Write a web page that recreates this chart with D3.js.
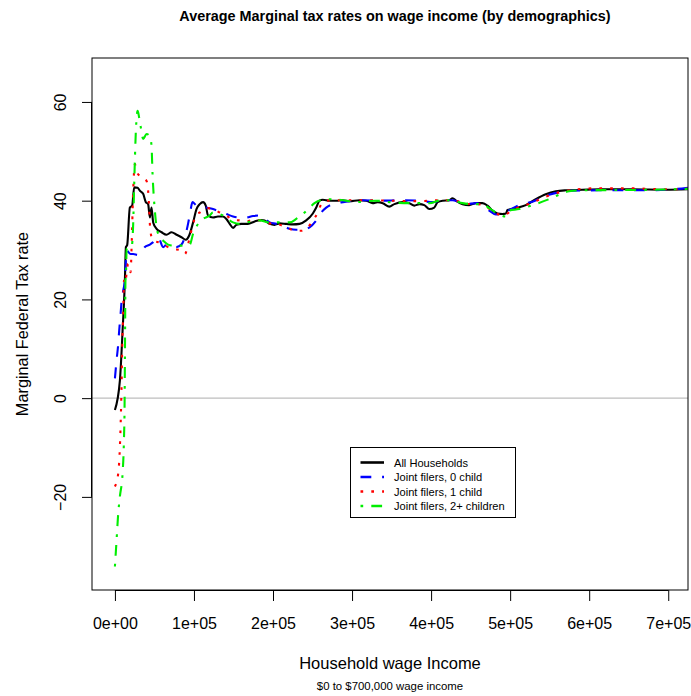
<!DOCTYPE html>
<html>
<head>
<meta charset="utf-8">
<script src="https://cdn.jsdelivr.net/npm/d3@7"></script>
<style>
  html, body { margin: 0; padding: 0; background: #ffffff; }
  svg { display: block; font-family: "Liberation Sans", Arial, Helvetica, sans-serif; }
</style>
</head>
<body>
<svg id="chart" width="691" height="696"></svg>
<script>
// Marginal federal tax rate (%) by household wage income ($), one [income, rate] list per group
const allHouseholds = [
  [0,-2.4],[6300,3.6],[9700,13.7],[12600,23.8],[13900,30.6],[15500,31],[18900,38.6],[21800,39],
  [24400,42.7],[28700,42.6],[31600,42],[35700,41.4],[39100,39.7],[42000,39.3],[44200,36.6],[46300,38.6],
  [48400,35.6],[52700,34.3],[59000,33.6],[65300,33.1],[71600,33.6],[77900,33.1],[84200,32.6],[89600,32.1],
  [93800,32.9],[98900,35.6],[103200,38.3],[107300,39.3],[111500,39.7],[114900,39],[117800,37],[124100,36.6],
  [130400,36.8],[136700,36.8],[141000,36.3],[145200,35.3],[149400,34.5],[153700,35.1],[160000,35.3],[168300,35.3],
  [176800,35.8],[185200,36.1],[189400,36],[195700,35.3],[202000,35.1],[208300,35.4],[216800,35.3],[225100,35.2],
  [233600,35.3],[242000,36],[250400,37.4],[254700,38.6],[258800,40],[263000,40.2],[271500,40],[279900,40],
  [288300,40.1],[296700,39.9],[309300,40.1],[317800,40],[326100,39.5],[332400,39.7],[338800,39.5],[347200,38.8],
  [353500,39.3],[364000,39.7],[372500,39.5],[378800,39],[385100,39.3],[391400,39.1],[397700,38.3],[404000,38.6],
  [408200,39.7],[414500,40],[423000,40.1],[427100,40.5],[432200,39.9],[439800,39.3],[448200,39.1],[456700,39.5],
  [465000,39.5],[471300,39],[477700,38],[484000,37.4],[490300,37.3],[494600,37.4],[496600,38.1],[507200,38.5],
  [519800,39.1],[532400,40.3],[545000,41.3],[557700,41.9],[570300,42.1],[591300,42.2],[612400,42.3],[654400,42.3],
  [696600,42.2],[725000,42.3]
];

const jointNoChild = [
  [0,4],[2100,7.7],[4200,11],[5400,13.7],[7200,17.1],[8500,19.8],[10500,21.8],[12600,23.8],
  [14800,29.9],[19800,29.2],[23100,29.2],[29400,29],[33700,29.6],[37900,30.6],[44200,31.1],[48400,31.6],
  [54700,32.6],[61000,30.6],[65300,31.1],[71600,30.9],[77900,30.6],[84200,31.1],[88400,32.6],[92500,35.3],
  [95600,38],[98100,39.7],[103200,39],[115800,38.6],[124100,38.3],[132600,37.8],[141000,37.3],[149400,36.8],
  [157800,36.6],[166300,36.6],[174600,36.9],[185200,37],[195700,35.6],[204200,35.3],[212500,34.9],[221000,34.3],
  [229400,34.1],[237800,34.1],[246200,34.6],[254700,36],[261000,37.6],[267300,38.6],[275600,39.3],[288300,39.7],
  [300900,40],[313500,40.1],[334600,40],[364000,40.1],[385100,40],[401900,39.7],[414500,40],[427100,40.1],
  [435600,39.7],[444100,39.3],[456700,39.5],[465000,39],[473500,38],[481900,37.2],[490300,37.3],[498700,38.1],
  [507200,38.8],[515500,39.3],[528200,39.8],[545100,41],[561900,41.7],[578700,42],[612400,42.1],[675500,42.1],
  [705000,42.3],[725000,42.6]
];

const jointOneChild = [
  [0,-17.9],[4200,-15.2],[6300,-9.8],[7600,-3.1],[8500,3.6],[9200,10.4],[10500,17.1],[11400,23.8],
  [12600,23.2],[16800,27.2],[19800,25.5],[21100,30.6],[23100,42],[25300,47.4],[27400,46],[31600,45],
  [35700,44.7],[40000,44],[42000,42],[43300,38.6],[44200,35.3],[46300,32.6],[48400,31.9],[54700,31.6],
  [61000,31.2],[67300,30.6],[73600,30.2],[82100,30],[88400,29.2],[94700,32.6],[98900,35.3],[103200,37.3],
  [107300,37.6],[115800,38.5],[124100,38.3],[132600,37.6],[141000,37],[149400,36.1],[157800,36],[166300,35.8],
  [174600,36.1],[185200,36],[195700,35.4],[204200,35.3],[212500,34.9],[221000,34.3],[229400,33.9],[235700,33.9],
  [244100,34.6],[250400,36],[256700,37.6],[261000,39.3],[267300,40],[279900,40.1],[317800,40.1],[350000,40],
  [385000,39.9],[414000,40.1],[430000,40],[445000,39.4],[465000,39.2],[475000,38.2],[484000,37.3],[492000,37],
  [500000,37.8],[510000,38.6],[525000,39.4],[545000,40.8],[565000,41.8],[585000,42.3],[610000,42.5],[650000,42.5],
  [700000,42.3],[725000,42.4]
];

const jointTwoPlus = [
  [0,-34.1],[2100,-28.7],[4200,-23.3],[6300,-19.9],[9700,-15.2],[11400,-8.5],[12200,-1.8],[12600,7],
  [13000,17.1],[13300,23.8],[13900,24.5],[14800,30.2],[21100,30.6],[23100,35.3],[24400,43.4],[26500,54.1],
  [28700,58.2],[30700,56.8],[32800,54.8],[35700,52.5],[40000,53.5],[44200,53.1],[46300,51.1],[47600,45.4],
  [49200,40.7],[50500,38],[52700,34.6],[56800,32.6],[61000,31.9],[67300,31.1],[73600,30.9],[88400,30.9],
  [94700,31.1],[98900,33.3],[105200,35.3],[111500,36.3],[119900,37],[124100,37.6],[136700,37],[149400,35.6],
  [157800,35.3],[166300,35.6],[183100,36],[195700,35.6],[221000,35.6],[229400,36.3],[237800,37.3],[246200,38.6],
  [252500,39.5],[261000,40.1],[275600,40.3],[292600,40],[305200,39.7],[317800,39.9],[330400,40],[347200,39.7],
  [372500,39.5],[397700,39.5],[412500,40.1],[425100,40.1],[439800,39.5],[452400,39.3],[465000,39.3],[473500,38.5],
  [481900,37.6],[494600,36.8],[498700,38],[511400,38.3],[528200,39.1],[549200,40.3],[561900,41.2],[574500,41.9],
  [591300,42.1],[675500,42.2],[725000,42.4]
];

const seriesNames = ["All Households", "Joint filers, 0 child", "Joint filers, 1 child", "Joint filers, 2+ children"];
const xTicks = [0, 100000, 200000, 300000, 400000, 500000, 600000, 700000];
const xTickLabels = ["0e+00", "1e+05", "2e+05", "3e+05", "4e+05", "5e+05", "6e+05", "7e+05"];
const yTicks = [-20, 0, 20, 40, 60];

const svg = d3.select("#chart");
const plot = { left: 92, right: 688, top: 58, bottom: 590 };

const x = d3.scaleLinear().domain([-29000, 725000]).range([plot.left, plot.right]);
const y = d3.scaleLinear().domain([-38.86, 68.9]).range([plot.bottom, plot.top]);

// dash unit and stroke width
const du = 2.7;
const lw = 2.1;
const styles = [
  { data: allHouseholds, color: "#000000", dash: null },
  { data: jointNoChild,  color: "#0000ff", dash: [4 * du, 4 * du] },
  { data: jointOneChild, color: "#ff0000", dash: [1 * du, 3 * du] },
  { data: jointTwoPlus,  color: "#00ee00", dash: [1 * du, 3 * du, 4 * du, 3 * du] }
];

svg.append("defs").append("clipPath").attr("id", "plotClip")
  .append("rect")
  .attr("x", plot.left).attr("y", plot.top)
  .attr("width", plot.right - plot.left).attr("height", plot.bottom - plot.top);

// Title
svg.append("text")
  .attr("x", 395).attr("y", 21)
  .attr("text-anchor", "middle")
  .attr("font-weight", "bold")
  .attr("font-size", 14.4)
  .text("Average Marginal tax rates on wage income (by demographics)");

// Reference line at zero
svg.append("line")
  .attr("x1", plot.left).attr("x2", plot.right)
  .attr("y1", y(0)).attr("y2", y(0))
  .attr("stroke", "#bebebe").attr("stroke-width", 1.2);

// Series lines
const line = d3.line()
  .x(d => x(d[0]))
  .y(d => y(d[1]))
  .curve(d3.curveMonotoneX);

const lines = svg.append("g").attr("clip-path", "url(#plotClip)");
styles.forEach(s => {
  lines.append("path")
    .datum(s.data)
    .attr("d", line)
    .attr("fill", "none")
    .attr("stroke", s.color)
    .attr("stroke-width", lw)
    .attr("stroke-linejoin", "round")
    .attr("stroke-dasharray", s.dash ? s.dash.join(",") : null);
});

// Plot frame
svg.append("rect")
  .attr("x", plot.left).attr("y", plot.top)
  .attr("width", plot.right - plot.left).attr("height", plot.bottom - plot.top)
  .attr("fill", "none").attr("stroke", "#000").attr("stroke-width", 1);

// X axis
const xAxis = svg.append("g").attr("transform", `translate(0,${plot.bottom})`)
  .call(d3.axisBottom(x).tickValues(xTicks).tickSize(11).tickPadding(0).tickFormat((d, i) => xTickLabels[i]));
xAxis.select(".domain").attr("d", `M${x(0)},0.5H${x(700000)}`).attr("stroke", "#000");
xAxis.selectAll(".tick line").attr("stroke", "#000");
xAxis.selectAll(".tick text")
  .attr("y", 39).attr("dy", null)
  .attr("font-size", 16).attr("font-family", "Liberation Sans, Arial, sans-serif").attr("fill", "#000");

// Y axis
const yAxis = svg.append("g").attr("transform", `translate(${plot.left},0)`)
  .call(d3.axisLeft(y).tickValues(yTicks).tickSize(10).tickFormat(d => d < 0 ? "\u2212" + Math.abs(d) : String(d)));
yAxis.select(".domain").attr("d", `M-0.5,${y(-20)}V${y(60)}`).attr("stroke", "#000");
yAxis.selectAll(".tick line").attr("stroke", "#000");
yAxis.selectAll(".tick text")
  .attr("x", null).attr("dy", null)
  .attr("text-anchor", "middle")
  .attr("transform", "translate(-26,0) rotate(-90)")
  .attr("font-size", 16).attr("font-family", "Liberation Sans, Arial, sans-serif").attr("fill", "#000");

// Axis titles
svg.append("text")
  .attr("x", 390).attr("y", 669)
  .attr("text-anchor", "middle")
  .attr("font-size", 16.5)
  .text("Household wage Income");

svg.append("text")
  .attr("x", 390).attr("y", 690)
  .attr("text-anchor", "middle")
  .attr("font-size", 11.4)
  .text("$0 to $700,000 wage income");

svg.append("text")
  .attr("transform", `translate(28,${(plot.top + plot.bottom) / 2}) rotate(-90)`)
  .attr("text-anchor", "middle")
  .attr("font-size", 16.3)
  .text("Marginal Federal Tax rate");

// Legend
const legend = svg.append("g");
legend.append("rect")
  .attr("x", 350.5).attr("y", 447.5).attr("width", 165).attr("height", 70)
  .attr("fill", "#fff").attr("stroke", "#000").attr("stroke-width", 1);

seriesNames.forEach((name, i) => {
  const yy = 462.5 + i * 14.5;
  legend.append("line")
    .attr("x1", 360.5).attr("x2", 384)
    .attr("y1", yy).attr("y2", yy)
    .attr("stroke", styles[i].color)
    .attr("stroke-width", 2.6)
    .attr("stroke-dasharray", styles[i].dash ? styles[i].dash.join(",") : null);
  legend.append("text")
    .attr("x", 394).attr("y", yy + 4)
    .attr("font-size", 11.1)
    .text(name);
});
</script>
</body>
</html>
